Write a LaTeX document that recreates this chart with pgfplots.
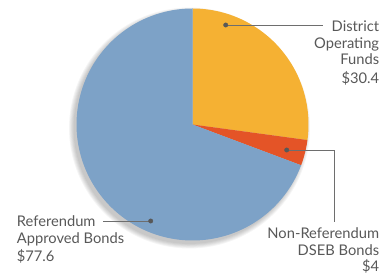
\documentclass[border=0pt]{standalone}
\usepackage{pgfplots}
\pgfplotsset{compat=1.18}
\usepackage{fontspec}
\setmainfont{Lato}
\definecolor{cOrange}{HTML}{F5B133}
\definecolor{cRed}{HTML}{E45427}
\definecolor{cBlue}{HTML}{7DA2C7}
\definecolor{cText}{HTML}{585858}
\definecolor{cLine}{HTML}{6E6E6E}
\begin{document}
\begin{tikzpicture}
% slice values
\def\vA{30.4}\def\vB{4}\def\vC{77.6}
\pgfmathsetmacro{\tot}{\vA+\vB+\vC}
\pgfmathsetmacro{\aZ}{90}
\pgfmathsetmacro{\aA}{90-360/\tot*\vA}
\pgfmathsetmacro{\aB}{\aA-360/\tot*\vB}
\pgfmathsetmacro{\aC}{\aB-360/\tot*\vC}
\def\cx{192.5}\def\cy{150.5}\def\R{116}
\begin{axis}[width=389pt,height=275pt,scale only axis,
  xmin=0,xmax=389,ymin=0,ymax=275,hide axis,clip=false]
\path (axis cs:0,0) rectangle (axis cs:389,275);
% soft shadow
\pgfplotsinvokeforeach{0,...,5}{
\addplot[fill=black,fill opacity=0.04,draw=none,domain=0:360,samples=120,variable=\t]
  ({\cx-3+(\R+0.9*#1)*cos(\t)},{\cy-3.5+(\R+0.9*#1)*sin(\t)}) -- cycle;
}
\addplot[fill=cOrange,draw=none,domain=\aA:\aZ,samples=90,variable=\t]
  ({\cx+\R*cos(\t)},{\cy+\R*sin(\t)}) -- (axis cs:\cx,\cy) -- cycle;
\addplot[fill=cRed,draw=none,domain=\aB:\aA,samples=20,variable=\t]
  ({\cx+\R*cos(\t)},{\cy+\R*sin(\t)}) -- (axis cs:\cx,\cy) -- cycle;
\addplot[fill=cBlue,draw=none,domain=\aC:\aB,samples=200,variable=\t]
  ({\cx+\R*cos(\t)},{\cy+\R*sin(\t)}) -- (axis cs:\cx,\cy) -- cycle;
% leader lines
\draw[cLine,line width=0.9pt] (axis cs:225.7,250) -- (axis cs:323,250);
\draw[cLine,line width=0.9pt] (axis cs:286.7,125) -- (axis cs:334.3,125) -- (axis cs:334.3,53.3);
\draw[cLine,line width=0.9pt] (axis cs:103.3,54) -- (axis cs:150.7,54);
\addplot[only marks,mark=*,mark size=2.2pt,color=cLine!80!black] coordinates {(225.7,250) (286.7,125) (150.7,54)};
% labels
\begin{scope}[every node/.style={inner sep=0pt,text=cText,font=\fontsize{14.7}{17}\selectfont}]
\node[anchor=base east] at (axis cs:379.3,243.3) {District};
\node[anchor=base east] at (axis cs:379.3,226.7) {Operating};
\node[anchor=base east] at (axis cs:379.3,210) {Funds};
\node[anchor=base east] at (axis cs:379.3,191.7) {\$30.4};
\node[anchor=base east] at (axis cs:379.3,36) {Non-Referendum};
\node[anchor=base east] at (axis cs:379.3,19.5) {DSEB Bonds};
\node[anchor=base east] at (axis cs:379.3,3.3) {\$4};
\node[anchor=base west] at (axis cs:16.7,48.3) {Referendum};
\node[anchor=base west] at (axis cs:16.7,31.7) {Approved Bonds};
\node[anchor=base west] at (axis cs:16.7,13.3) {\$77.6};
\end{scope}
\end{axis}
\end{tikzpicture}
\end{document}
